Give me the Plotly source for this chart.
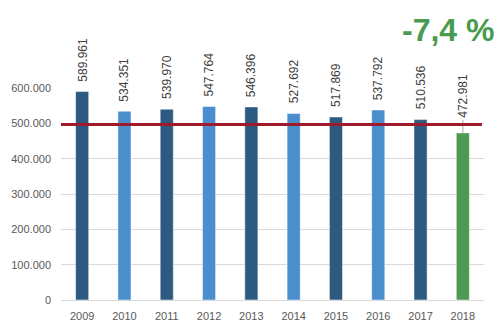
import plotly.graph_objects as go

years = ["2009", "2010", "2011", "2012", "2013", "2014", "2015", "2016", "2017", "2018"]
values = [589961, 534351, 539970, 547764, 546396, 527692, 517869, 537792, 510536, 472981]
bar_colors = ["#2C5A80", "#4A8ECE", "#2C5A80", "#4A8ECE", "#2C5A80",
              "#4A8ECE", "#2C5A80", "#4A8ECE", "#2C5A80", "#4E9A55"]
reference_level = 497000
change_label = "-7,4 %"


def fmt(v):
    return f"{v:,}".replace(",", ".")


fig = go.Figure()
fig.add_trace(go.Bar(
    x=years, y=values,
    marker=dict(color=bar_colors, line=dict(color="rgba(255,255,255,0.5)", width=1)),
    hoverinfo="skip",
))

label_font = dict(family="Liberation Sans, Arial", size=12, color="#404040")

# value labels above each bar, rotated (x given as category index)
for i, v in enumerate(values):
    if i == len(values) - 1:
        # last label sits higher, joined to its bar by a short leader line
        fig.add_shape(type="line", xref="x", yref="y", x0=i, x1=i,
                      ysizemode="pixel", yanchor=v, y0=0, y1=13,
                      line=dict(color="#A6A6A6", width=1))
        fig.add_annotation(x=i, y=v, xref="x", yref="y", text=fmt(v),
                           textangle=-90, showarrow=False, yanchor="bottom",
                           yshift=13, font=label_font)
    else:
        fig.add_annotation(x=i, y=v, xref="x", yref="y", text=fmt(v),
                           textangle=-90, showarrow=False, yanchor="bottom",
                           yshift=8, font=label_font)

# reference line across the plot
fig.add_shape(type="line", xref="paper", yref="y", x0=0, x1=0.995,
              y0=reference_level, y1=reference_level,
              line=dict(color="#A01A2C", width=3), layer="above")

fig.add_annotation(xref="paper", yref="paper", x=0.914, y=1.0, yshift=58,
                   xanchor="center", yanchor="middle",
                   text=f"<b>{change_label}</b>", showarrow=False,
                   font=dict(family="Liberation Sans, Arial", size=32, color="#4A9A4F"))

fig.update_layout(
    width=500, height=333,
    margin=dict(l=61, r=16, t=88, b=33),
    paper_bgcolor="white", plot_bgcolor="white",
    separators=",.",
    bargap=0.69,
    showlegend=False,
    font=dict(family="Liberation Sans, Arial", size=11, color="#595959"),
)
fig.update_xaxes(type="category", range=[-0.5, len(years) - 0.5], showgrid=False,
                 showline=True, linecolor="#D9D9D9", linewidth=1, ticks="",
                 ticklabelstandoff=6, tickfont=dict(size=11, color="#595959"))
fig.update_yaxes(range=[0, 600000], tickvals=[0, 100000, 200000, 300000, 400000, 500000, 600000],
                 tickformat=",d", showgrid=True, gridcolor="#D9D9D9", gridwidth=1,
                 zeroline=False, ticks="", ticklabelstandoff=9,
                 tickfont=dict(size=11, color="#595959"))

fig.write_html("out.html")
